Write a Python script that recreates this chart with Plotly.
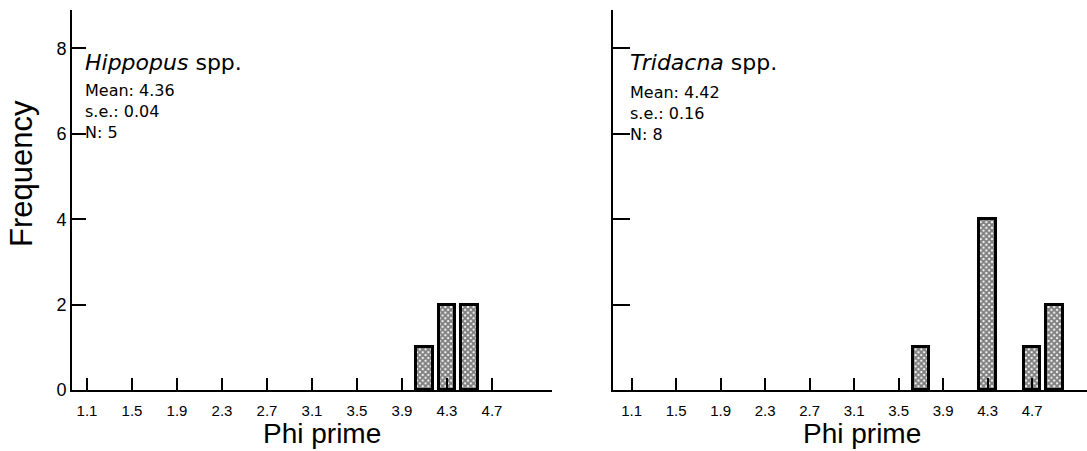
import plotly.graph_objects as go

# ---- data ----
tick_vals = [1.1, 1.5, 1.9, 2.3, 2.7, 3.1, 3.5, 3.9, 4.3, 4.7]
tick_labels = ["1.1", "1.5", "1.9", "2.3", "2.7", "3.1", "3.5", "3.9", "4.3", "4.7"]

hippo_phi = [4.1, 4.3, 4.5]
hippo_freq = [1, 2, 2]

trid_phi = [3.7, 4.3, 4.7, 4.9]
trid_freq = [1, 4, 1, 2]

y_ticks = [0, 2, 4, 6, 8]

hippo_stats = ["Mean: 4.36", "s.e.: 0.04", "N: 5"]
trid_stats = ["Mean: 4.42", "s.e.: 0.16", "N: 8"]

W, H = 1087, 451
FONT = "Liberation Sans"
TFONT = "DejaVu Sans"

def px(x):
    return x / W

def py(y):
    return 1 - y / H

fig = go.Figure()

bar_style = dict(
    marker=dict(
        color="white",
        line=dict(color="black", width=3),
        pattern=dict(shape="x", fgcolor="black", bgcolor="white", size=4, solidity=0.75),
    ),
    width=0.15,
    showlegend=False,
)

fig.add_trace(go.Bar(x=hippo_phi, y=hippo_freq, xaxis="x", yaxis="y", **bar_style))
fig.add_trace(go.Bar(x=trid_phi, y=trid_freq, xaxis="x2", yaxis="y2", **bar_style))

ydom = [py(390), py(10)]
common_x = dict(
    tickmode="array", tickvals=tick_vals, ticktext=tick_labels,
    ticks="inside", ticklen=12, tickwidth=2, tickcolor="black",
    showline=True, linecolor="black", linewidth=2,
    showgrid=False, zeroline=False, automargin=False,
    tickfont=dict(family=FONT, size=15, color="black"),
    ticklabelstandoff=6,
)
common_y = dict(
    tickmode="array", tickvals=y_ticks,
    ticks="inside", tickwidth=2, tickcolor="black",
    showline=True, linecolor="black", linewidth=2,
    showgrid=False, zeroline=False, automargin=False,
    range=[0, 8.9], domain=ydom,
    tickfont=dict(family=FONT, size=18, color="black"),
)

fig.update_layout(
    width=W, height=H,
    margin=dict(l=0, r=0, t=0, b=0),
    plot_bgcolor="white", paper_bgcolor="white",
    xaxis=dict(domain=[px(72), px(552)], range=[0.967, 5.233], anchor="y", **common_x),
    yaxis=dict(anchor="x", ticklen=14, showticklabels=True, **common_y),
    xaxis2=dict(domain=[px(613), 1.0], range=[0.932, 5.194], anchor="y2", **common_x),
    yaxis2=dict(anchor="x2", ticklen=17, showticklabels=False, **common_y),
    bargap=0,
)

ann = []
def text(x, y, t, size, family=FONT, **kw):
    ann.append(dict(x=px(x), y=py(y), xref="paper", yref="paper", text=t,
                    showarrow=False, xanchor=kw.get("xanchor", "left"),
                    yanchor=kw.get("yanchor", "middle"), align="left",
                    textangle=kw.get("angle", 0), borderpad=0,
                    font=dict(family=family, size=size, color="black")))

text(22, 174, "Frequency", 31, xanchor="center", angle=-90)
text(322, 450, "Phi prime", 28, xanchor="center", yanchor="bottom")
text(862, 450, "Phi prime", 28, xanchor="center", yanchor="bottom")

text(84, 63, "<i>Hippopus</i> spp.", 22, TFONT)
text(84, 112, "<br>".join(hippo_stats), 16, TFONT)

text(629, 63, "<i>Tridacna</i> spp.", 22, TFONT)
text(629, 114, "<br>".join(trid_stats), 16, TFONT)

fig.update_layout(annotations=ann)
fig.write_html("out.html", config={"displayModeBar": False},
               post_script="document.body.style.margin='0';")
